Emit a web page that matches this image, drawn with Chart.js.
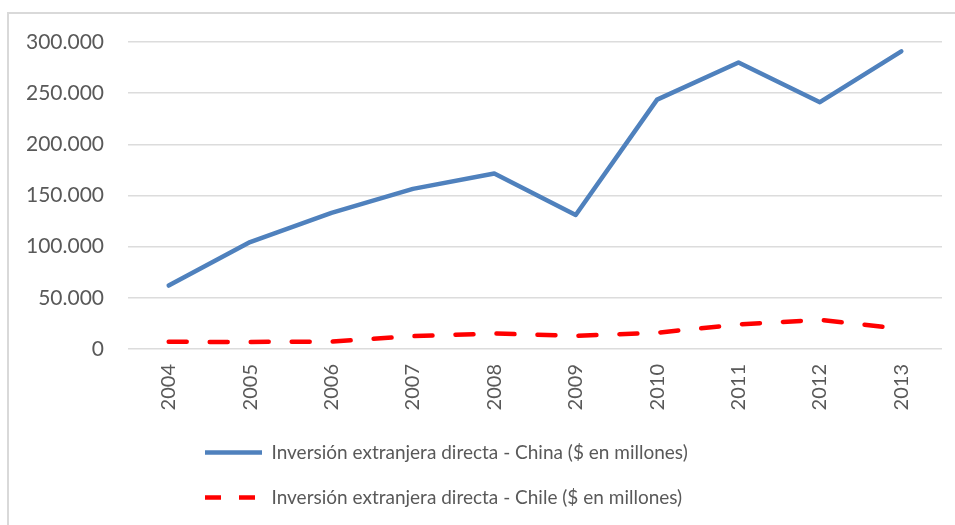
<!DOCTYPE html>
<html>
<head>
<meta charset="utf-8">
<script src="https://cdn.jsdelivr.net/npm/chart.js@4/dist/chart.umd.min.js"></script>
<style>
  html, body { margin: 0; padding: 0; background: #ffffff; overflow: hidden; }
  #frame { position: absolute; left: 7px; top: 12px; width: 2000px; height: 2000px;
           border-left: 2px solid #d9d9d9; border-top: 2px solid #d9d9d9; }
  #wrap { position: absolute; left: 0; top: 0; width: 955px; height: 525px; }
</style>
</head>
<body>
<div id="frame"></div>
<div id="wrap"><canvas id="c" width="955" height="525"></canvas></div>
<script>
const years = ['2004','2005','2006','2007','2008','2009','2010','2011','2012','2013'];
const chinaFDI = [62000, 104500, 133000, 156500, 171500, 131000, 243700, 280000, 241200, 290900];
const chileFDI = [7000, 6900, 7200, 12600, 15100, 12900, 15900, 24000, 28500, 19600];
const yTicks = [0, 50000, 100000, 150000, 200000, 250000, 300000];
const seriesLabels = [
  'Inversión extranjera directa - China ($ en millones)',
  'Inversión extranjera directa - Chile ($ en millones)'
];

const fmt = v => String(v).replace(/\B(?=(\d{3})+(?!\d))/g, '.');
const FONT = 'Lato, "Open Sans", sans-serif';
const TXT = '#595959';

const legendShift = {
  id: 'legendShift',
  afterLayout(chart) {
    const lg = chart.legend;
    if (lg) { lg.left = 179; }
  }
};

new Chart(document.getElementById('c'), {
  type: 'line',
  data: {
    labels: years,
    datasets: [
      {
        label: seriesLabels[0],
        data: chinaFDI,
        borderColor: '#4f81bd',
        backgroundColor: '#4f81bd',
        borderWidth: 4.5,
        borderCapStyle: 'round',
        borderJoinStyle: 'round',
        pointRadius: 0,
        tension: 0,
        fill: false
      },
      {
        label: seriesLabels[1],
        data: chileFDI,
        borderColor: '#ff0000',
        backgroundColor: '#ff0000',
        borderWidth: 4.5,
        borderDash: [18, 23],
        borderCapStyle: 'round',
        borderJoinStyle: 'round',
        pointRadius: 0,
        tension: 0,
        fill: false
      }
    ]
  },
  options: {
    responsive: false,
    animation: false,
    devicePixelRatio: 1,
    layout: { padding: { top: 42, right: 13, left: 0, bottom: 8 } },
    plugins: {
      tooltip: { enabled: false },
      legend: {
        position: 'bottom',
        align: 'start',
        labels: {
          usePointStyle: true,
          pointStyle: 'line',
          pointStyleWidth: 57,
          boxHeight: 19,
          padding: 26,
          color: TXT,
          font: { family: FONT, size: 19 },
          generateLabels(chart) {
            const items = Chart.defaults.plugins.legend.labels.generateLabels(chart);
            items.forEach(it => {
              it.pointStyle = 'line';
              if (it.datasetIndex === 1) it.lineDash = [16, 18];
            });
            return items;
          }
        }
      }
    },
    scales: {
      x: {
        offset: true,
        grid: { display: false, drawTicks: false },
        border: { display: false },
        ticks: {
          color: TXT,
          font: { family: FONT, size: 20 },
          minRotation: 90,
          maxRotation: 90,
          padding: 15
        },
        afterFit(s) { s.height = 68; }
      },
      y: {
        min: 0,
        max: 300000,
        grid: { color: '#dcdcdc', lineWidth: 1.5, drawTicks: false },
        border: { display: false },
        afterBuildTicks(s) { s.ticks = yTicks.map(v => ({ value: v })); },
        ticks: {
          color: TXT,
          font: { family: FONT, size: 21 },
          padding: 24,
          callback: v => fmt(v)
        },
        afterFit(s) { s.width = 128; }
      }
    }
  },
  plugins: [legendShift]
});
</script>
</body>
</html>
